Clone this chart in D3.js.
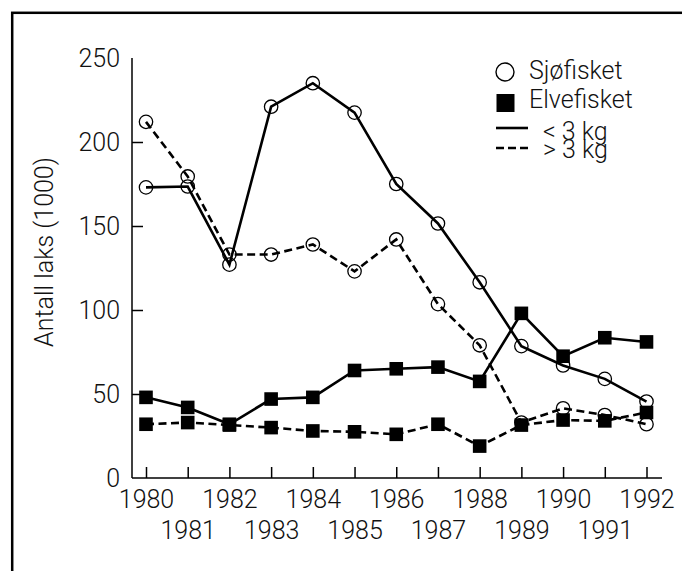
<!DOCTYPE html>
<html>
<head>
<meta charset="utf-8">
<script src="https://cdn.jsdelivr.net/npm/d3@7"></script>
<style>
  body { margin: 0; background: #fff; }
  text { font-family: Roboto, "Liberation Sans", sans-serif; font-weight: 300; fill: #111; }
</style>
</head>
<body>
<div class="canvas"></div>
<script>
// data (thousands of salmon)
const years = [1980, 1981, 1982, 1983, 1984, 1985, 1986, 1987, 1988, 1989, 1990, 1991, 1992]
const sjoUnder3 = [173, 173.5, 127, 221, 235, 217.5, 175, 151.5, 116.5, 78.5, 67, 59, 45.5]
const sjoOver3 = [212, 179.5, 133, 133, 139, 123, 142, 103.5, 79, 33, 41.5, 37.5, 32]
const elveUnder3 = [48, 42, 32, 47, 48, 64, 65, 66, 57.5, 98, 72.5, 83.5, 81]
const elveOver3 = [32, 33, 31.5, 30, 28, 27.5, 26, 32, 19, 31.5, 34.5, 34, 39]
const yTicks = [0, 50, 100, 150, 200, 250]
const yLabel = "Antall laks (1000)"
const legendItems = ["Sjøfisket", "Elvefisket", "< 3 kg", "> 3 kg"]

const width = 682
const height = 571

const svg = d3.select(".canvas")
    .append("svg")
    .attr("width", width)
    .attr("height", height)

// frame (only top and left edges show in the picture)
svg.append("rect")
    .attr("x", 12.2)
    .attr("y", 12.8)
    .attr("width", 900)
    .attr("height", 900)
    .attr("fill", "none")
    .attr("stroke", "#000")
    .attr("stroke-width", 2.5)

const x = d3.scaleLinear()
    .domain([1980, 1992])
    .range([146, 646.5])

const y = d3.scaleLinear()
    .domain([0, 250])
    .range([478, 58])

// axes
const yAxis = d3.axisLeft(y)
    .tickValues(yTicks)
    .tickSize(-11)
    .tickSizeOuter(0)
    .tickPadding(12)

const yAxisGroup = svg.append("g")
    .attr("transform", "translate(132, 0)")
    .call(yAxis)
yAxisGroup.select(".domain").remove()
yAxisGroup.selectAll(".tick line")
    .attr("stroke", "#000")
    .attr("stroke-width", 1.5)
    .attr("display", d => (d === 0 || d === 250) ? "none" : null)
yAxisGroup.selectAll("text")
    .attr("font-size", 25)
    .attr("font-family", null)

const xAxis = d3.axisBottom(x)
    .tickValues(years)
    .tickFormat(d3.format("d"))
    .tickSize(-11)
    .tickSizeOuter(0)

const xAxisGroup = svg.append("g")
    .attr("transform", `translate(0, ${y(0)})`)
    .call(xAxis)
xAxisGroup.select(".domain").remove()
xAxisGroup.selectAll(".tick line")
    .attr("stroke", "#000")
    .attr("stroke-width", 1.5)
xAxisGroup.selectAll("text")
    .attr("font-size", 25)
    .attr("font-family", null)
    .attr("dy", 0)
    .attr("y", (d, i) => i % 2 === 0 ? 30 : 61)

svg.append("line")
    .attr("x1", 132).attr("x2", 132)
    .attr("y1", y(250)).attr("y2", y(0))
    .attr("stroke", "#000").attr("stroke-width", 1.5)
svg.append("line")
    .attr("x1", 132).attr("x2", 662)
    .attr("y1", y(0)).attr("y2", y(0))
    .attr("stroke", "#000").attr("stroke-width", 1.5)

svg.append("text")
    .attr("transform", "translate(53, 252) rotate(-90)")
    .attr("text-anchor", "middle")
    .attr("font-size", 25)
    .text(yLabel)

// series
const series = [
    { values: sjoOver3, marker: "circle", dashed: true },
    { values: elveOver3, marker: "square", dashed: true },
    { values: sjoUnder3, marker: "circle", dashed: false },
    { values: elveUnder3, marker: "square", dashed: false }
]

const line = d3.line()
    .x((d, i) => x(years[i]))
    .y(d => y(d))

series.forEach(s => {
    svg.append("path")
        .datum(s.values)
        .attr("d", line)
        .attr("fill", "none")
        .attr("stroke", "#000")
        .attr("stroke-width", 2.6)
        .attr("stroke-dasharray", s.dashed ? "8,4.5" : null)
})

series.forEach(s => {
    if (s.marker === "circle") {
        svg.append("g").selectAll("circle")
            .data(s.values)
            .enter()
            .append("circle")
            .attr("cx", (d, i) => x(years[i]))
            .attr("cy", d => y(d))
            .attr("r", 6.7)
            .attr("fill", "none")
            .attr("stroke", "#000")
            .attr("stroke-width", 1.3)
    } else {
        svg.append("g").selectAll("rect")
            .data(s.values)
            .enter()
            .append("rect")
            .attr("x", (d, i) => x(years[i]) - 6.8)
            .attr("y", d => y(d) - 6.8)
            .attr("width", 13.6)
            .attr("height", 13.6)
            .attr("fill", "#000")
    }
})

// legend
const legend = svg.append("g")
legend.append("circle")
    .attr("cx", 505).attr("cy", 72).attr("r", 9)
    .attr("fill", "none").attr("stroke", "#000").attr("stroke-width", 1.4)
legend.append("rect")
    .attr("x", 496.5).attr("y", 94).attr("width", 18).attr("height", 18)
    .attr("fill", "#000")
legend.append("line")
    .attr("x1", 496).attr("x2", 528).attr("y1", 128).attr("y2", 128)
    .attr("stroke", "#000").attr("stroke-width", 2.6)
legend.append("line")
    .attr("x1", 496).attr("x2", 528).attr("y1", 148).attr("y2", 148)
    .attr("stroke", "#000").attr("stroke-width", 2.6)
    .attr("stroke-dasharray", "8,4")

const legendText = [
    { x: 529, y: 79 },
    { x: 529, y: 108 },
    { x: 543, y: 140 },
    { x: 543, y: 158 }
]
legend.selectAll("text.lg")
    .data(legendItems)
    .enter()
    .append("text")
    .attr("class", "lg")
    .attr("x", (d, i) => legendText[i].x)
    .attr("y", (d, i) => legendText[i].y)
    .attr("font-size", 25)
    .text(d => d)
</script>
</body>
</html>
